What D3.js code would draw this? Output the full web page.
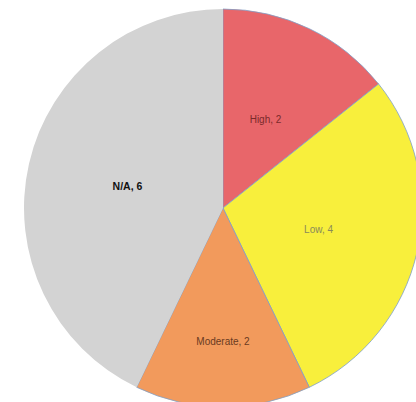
<!DOCTYPE html>
<html>
<head>
<meta charset="utf-8">
<script src="https://cdn.jsdelivr.net/npm/d3@7"></script>
<style>
  body { margin: 0; background: #fff; }
  svg { display: block; }
</style>
</head>
<body>
<div class="canvas"></div>
<script>
// data
const categories = ['High', 'Low', 'Moderate', 'N/A'];
const counts = [2, 4, 2, 6];
const sliceColors = ['#e8666a', '#f8ef3c', '#f29a5c', '#d3d3d3'];
const labelColors = ['#7a2a2a', '#8a8a5a', '#6a3a22', '#111'];

const dims = { width: 416, height: 402, radius: 199 };
const cent = { x: 223, y: 208 };

const data = categories.map((c, i) => ({ name: c, value: counts[i] }));

const svg = d3.select('.canvas')
    .append('svg')
    .attr('width', dims.width)
    .attr('height', dims.height);

const graph = svg.append('g')
    .attr('transform', `translate(${cent.x}, ${cent.y})`);

const pie = d3.pie()
    .sort(null)
    .value(d => d.value);

const arcPath = d3.arc()
    .outerRadius(dims.radius)
    .innerRadius(0);

const color = d3.scaleOrdinal().domain(categories).range(sliceColors);
const textColor = d3.scaleOrdinal().domain(categories).range(labelColors);

graph.selectAll('path')
    .data(pie(data))
    .enter()
    .append('path')
        .attr('d', arcPath)
        .attr('fill', d => color(d.data.name))
        .attr('stroke', d => d.data.name === 'N/A' ? 'none' : '#7f9fc8')
        .attr('stroke-width', 0.8);

// label placement - moderate slice label sits further out
const labelPos = d => {
    const a = (d.startAngle + d.endAngle) / 2;
    const r = d.data.name === 'Moderate' ? 133 : 98;
    return [Math.sin(a) * r, -Math.cos(a) * r];
};

graph.selectAll('text')
    .data(pie(data))
    .enter()
    .append('text')
        .attr('transform', d => `translate(${labelPos(d)})`)
        .attr('text-anchor', 'middle')
        .attr('dy', '0.35em')
        .attr('font-family', 'Liberation Sans, Arial, sans-serif')
        .attr('font-size', d => d.data.name === 'N/A' ? 10.5 : 10)
        .attr('font-weight', d => d.data.name === 'N/A' ? 'bold' : 'normal')
        .attr('fill', d => textColor(d.data.name))
        .text(d => `${d.data.name}, ${d.data.value}`);
</script>
</body>
</html>
